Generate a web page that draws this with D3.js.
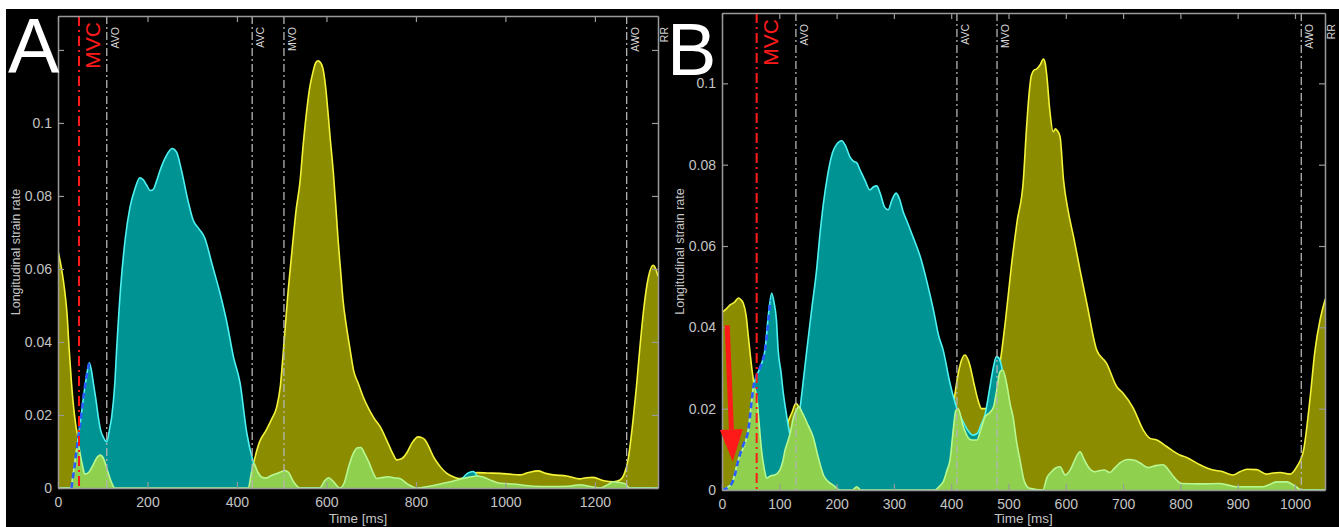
<!DOCTYPE html>
<html>
<head>
<meta charset="utf-8">
<script src="https://cdn.jsdelivr.net/npm/d3@7"></script>
<style>
  body { margin: 0; background: #fff; }
  svg { display: block; font-family: "Liberation Sans", Arial, sans-serif; }
</style>
</head>
<body>
<div id="chart"></div>
<script>
// ---- panel A data: [time ms, strain rate] ----
const aYellow = [[0,0.065],[8,0.060],[15,0.054],[20,0.048],[25,0.038],[30,0.029],[35,0.022],[40,0.017],[45,0.0137],[52,0.009],[60,0.005],[70,0.002],[80,0],[420,0],[430,0.003],[437,0.0068],[450,0.0125],[466,0.016],[478,0.019],[489,0.0223],[497,0.028],[504,0.038],[513,0.052],[523,0.065],[532,0.076],[541,0.084],[548,0.094],[556,0.1035],[563,0.110],[570,0.114],[576,0.1165],[581,0.117],[587,0.1165],[592,0.115],[598,0.110],[603,0.1035],[609,0.095],[615,0.087],[621,0.077],[626,0.068],[632,0.059],[637,0.0515],[645,0.044],[653,0.0378],[661,0.032],[671,0.0287],[682,0.025],[694,0.0218],[707,0.019],[720,0.0168],[735,0.013],[748,0.0095],[757,0.0077],[768,0.008],[779,0.0095],[792,0.0125],[805,0.014],[813,0.0138],[820,0.0132],[830,0.011],[839,0.0086],[852,0.0062],[869,0.004],[885,0.003],[898,0.0026],[910,0.003],[921,0.0036],[936,0.0042],[960,0.0041],[988,0.004],[1010,0.0038],[1032,0.0036],[1050,0.0042],[1073,0.0047],[1090,0.004],[1107,0.0036],[1137,0.0033],[1166,0.0025],[1180,0.0028],[1196,0.0029],[1220,0.002],[1241,0.0017],[1256,0.0022],[1266,0.004],[1274,0.0077],[1280,0.013],[1286,0.0195],[1293,0.028],[1300,0.0378],[1310,0.05],[1320,0.058],[1330,0.061],[1336,0.060],[1341,0.058]];
const aTeal = [[0,0],[30,0],[37,0.006],[45,0.0137],[50,0.018],[55,0.023],[63,0.030],[70,0.0343],[75,0.032],[79,0.0288],[85,0.024],[90,0.0195],[95,0.016],[101,0.014],[109,0.0127],[115,0.016],[120,0.0195],[127,0.0287],[131,0.0378],[140,0.055],[150,0.068],[161,0.077],[172,0.082],[183,0.085],[190,0.0845],[198,0.083],[206,0.0815],[213,0.0818],[220,0.084],[228,0.087],[242,0.091],[255,0.093],[265,0.092],[276,0.087],[290,0.079],[302,0.0734],[315,0.071],[328,0.0685],[345,0.061],[362,0.0534],[378,0.045],[392,0.036],[407,0.0287],[422,0.015],[437,0.0068],[450,0.002],[460,0],[885,0],[900,0.002],[915,0.004],[928,0.0045],[938,0.003],[950,0],[1341,0]];
const aGreen = [[0,0],[28,0],[34,0.004],[40,0.009],[45,0.012],[50,0.009],[55,0.006],[60,0.0038],[68,0.0042],[78,0.0062],[88,0.0085],[95,0.009],[102,0.008],[110,0.005],[118,0.002],[127,0],[425,0],[432,0.004],[437,0.0068],[446,0.0045],[455,0.003],[465,0.0027],[478,0.0035],[490,0.004],[500,0.0045],[507,0.0048],[515,0.0043],[525,0.002],[541,0],[585,0],[596,0.002],[605,0.0028],[615,0.0018],[630,0],[640,0.0015],[650,0.006],[660,0.0095],[670,0.011],[677,0.0111],[685,0.0095],[695,0.007],[705,0.004],[712,0.0026],[722,0.0028],[738,0.0031],[750,0.0028],[764,0.0026],[780,0.0012],[801,0],[830,0.0005],[861,0.0013],[880,0.0018],[898,0.0024],[920,0.003],[936,0.0033],[950,0.003],[970,0.002],[988,0.0013],[1017,0.0011],[1062,0.0005],[1100,0.0004],[1140,0.0005],[1166,0.0009],[1190,0.0004],[1211,0],[1230,0.001],[1241,0.0017],[1255,0.0015],[1267,0.0012],[1278,0],[1341,0]];
const aDashed = [[30,0],[37,0.006],[45,0.0137],[50,0.018],[55,0.023],[63,0.030],[70,0.0343]];
const aEvents = [["MVC",47],["AVO",109],["AVC",434],["MVO",505],["AWO",1271]];
const aXTicks = [0,200,400,600,800,1000,1200];
const aYTicks = [0,0.02,0.04,0.06,0.08,0.1,0.12];

// ---- panel B data ----
const bYellow = [[0,0.0437],[7,0.0445],[14,0.0455],[22,0.0462],[28.5,0.0472],[33,0.0468],[37,0.046],[42,0.043],[46,0.0377],[52,0.030],[56,0.0258],[62,0.02],[70,0.012],[80,0.008],[95,0.008],[108,0.012],[116,0.017],[122,0.019],[129,0.0213],[136,0.020],[140,0.019],[150,0.013],[165,0.006],[180,0.002],[200,0],[375,0],[390,0.006],[400,0.016],[408,0.025],[416,0.031],[424,0.0332],[432,0.031],[440,0.026],[447,0.022],[453,0.020],[462,0.02],[472,0.024],[485,0.031],[495,0.042],[505,0.055],[515,0.066],[526,0.0763],[531,0.088],[535,0.0959],[540,0.102],[545,0.1033],[549,0.1035],[555,0.1045],[561,0.106],[564,0.105],[567,0.1017],[572,0.0935],[578,0.0881],[582,0.0888],[585,0.0884],[590,0.0869],[596,0.0763],[605,0.068],[614,0.062],[625,0.054],[638,0.045],[654,0.0344],[671,0.0312],[689,0.0254],[700,0.0238],[718,0.0201],[735,0.0148],[747,0.0127],[759,0.0123],[776,0.0107],[799,0.0086],[811,0.008],[834,0.0062],[857,0.0049],[871,0.0046],[892,0.0037],[904,0.0045],[916,0.0051],[933,0.005],[950,0.0039],[962,0.0042],[974,0.0043],[991,0.0039],[1003,0.0057],[1015,0.0098],[1026,0.0221],[1035,0.0344],[1044,0.042],[1053,0.047]];
const bTeal = [[0,0],[17,0.0016],[28.5,0.0074],[46,0.0148],[55,0.0254],[66,0.030],[75,0.0344],[81,0.043],[86.7,0.0484],[91,0.046],[95,0.0418],[98,0.0344],[103,0.029],[107,0.0238],[112,0.019],[116,0.0155],[122,0.0123],[129,0.015],[136,0.020],[142,0.027],[148,0.0344],[157,0.045],[165,0.054],[171,0.063],[177,0.0705],[185,0.078],[193,0.083],[200,0.085],[209,0.0859],[216,0.0845],[223,0.082],[230,0.0808],[235,0.0805],[241,0.0787],[250,0.076],[258,0.0738],[264,0.0745],[270,0.0748],[276,0.073],[284,0.0695],[290,0.0689],[297,0.0715],[304,0.073],[310,0.0715],[316,0.0685],[322,0.0664],[334,0.062],[346,0.0574],[358,0.051],[369,0.0443],[378,0.038],[386,0.0344],[398,0.0262],[410,0.0201],[420,0.017],[430,0.0145],[438,0.0135],[446,0.014],[452,0.016],[459,0.0185],[466,0.024],[472,0.029],[479,0.0328],[483,0.0325],[487,0.031],[493,0.026],[500,0.017],[510,0.006],[520,0],[1053,0]];
const bGreen = [[0,0],[17,0.0016],[28.5,0.0074],[46,0.0148],[51,0.021],[55,0.0254],[60.5,0.023],[65,0.016],[69,0.0098],[74,0.005],[78,0.0029],[85,0.0035],[92,0.0037],[101,0.0049],[106,0.007],[110,0.0098],[115,0.012],[119,0.014],[125,0.018],[130,0.0197],[134,0.0205],[140,0.019],[150,0.016],[159,0.0131],[168,0.008],[177,0.0037],[186,0.002],[194,0.0012],[206,0],[228,0],[235,0.0008],[242,0],[372,0],[380,0.001],[386,0.002],[393,0.005],[398,0.0074],[403,0.014],[408,0.0195],[412,0.020],[421,0.0156],[430,0.0128],[436,0.0123],[445,0.0123],[452,0.015],[459,0.018],[467,0.019],[474,0.0205],[480,0.025],[485,0.029],[490,0.0295],[497,0.026],[503,0.021],[508,0.018],[514,0.012],[520,0.0074],[528,0.002],[537,0.0004],[560,0],[567,0.003],[575,0.0045],[583,0.0055],[590,0.0057],[599,0.0037],[608,0.005],[616,0.0075],[625,0.0094],[632,0.0075],[639,0.0057],[651,0.0045],[660,0.0048],[667,0.0049],[677,0.0043],[686,0.0055],[694,0.0066],[709,0.0075],[720,0.0073],[729,0.0067],[744,0.0055],[757,0.006],[770,0.0062],[779,0.005],[788,0.0033],[802,0.0016],[834,0.0015],[869,0.0016],[898,0.0008],[944,0.0008],[958,0.0015],[968,0.002],[985,0.002],[1002,0.0008],[1011,0],[1053,0]];
const bDashed = [[0,0],[8,0.0004],[17,0.0016],[23,0.004],[28.5,0.0074],[37,0.011],[46,0.0148],[51,0.021],[55,0.0254],[60,0.028],[66,0.030],[75,0.0344],[81,0.042],[84,0.0467]];
const bEvents = [["MVC",60.5],["AVO",129],["AVC",410],["MVO",480],["AWO",1011]];
const bArrow = [[9,0.0405],[18.7,0.007]];
const bXTicks = [0,100,200,300,400,500,600,700,800,900,1000];
const bYTicks = [0,0.02,0.04,0.06,0.08,0.1];

const W = 1339, H = 527;
const svg = d3.select("#chart").append("svg").attr("width", W).attr("height", H);
svg.append("rect").attr("x", 6).attr("y", 9).attr("width", W - 6).attr("height", H - 9).attr("fill", "#000");

const FILL_Y = "#8c8c00", LINE_Y = "#f4f43a";
const FILL_T = "#009393", LINE_T = "#4ef2f2";
const FILL_G = "#8fd14f", LINE_G = "#b8f890";

function drawPanel(p) {
    const x = d3.scaleLinear().domain(p.xDomain).range([p.left, p.right]);
    const y = d3.scaleLinear().domain(p.yDomain).range([p.bottom, p.top]);
    const g = svg.append("g");

    const clipId = "clip" + p.letter;
    svg.append("clipPath").attr("id", clipId).append("rect")
        .attr("x", p.left).attr("y", p.top)
        .attr("width", p.right - p.left).attr("height", p.bottom - p.top);

    const plot = g.append("g").attr("clip-path", `url(#${clipId})`);
    const area = d3.area().x(d => x(d[0])).y0(y(0)).y1(d => y(d[1])).curve(d3.curveMonotoneX);
    const line = d3.line().x(d => x(d[0])).y(d => y(d[1])).curve(d3.curveMonotoneX);

    [[p.yellow, FILL_Y, LINE_Y], [p.teal, FILL_T, LINE_T], [p.green, FILL_G, LINE_G]].forEach(([data, fill, stroke]) => {
        plot.append("path").datum(data).attr("d", area).attr("fill", fill);
        plot.append("path").datum(data).attr("d", line)
            .attr("fill", "none").attr("stroke", stroke).attr("stroke-width", 1.6);
    });

    // extrapolated onset (blue dashed)
    plot.append("path").datum(p.dashed).attr("d", line)
        .attr("fill", "none").attr("stroke", "#2a5cff").attr("stroke-width", 2.6)
        .attr("stroke-dasharray", "6,4");

    // event lines
    p.events.forEach(([name, t]) => {
        const isMvc = name === "MVC";
        g.append("line")
            .attr("x1", x(t)).attr("x2", x(t)).attr("y1", p.top).attr("y2", p.bottom)
            .attr("stroke", isMvc ? "#ff1a1a" : "#b4b4b4")
            .attr("stroke-width", isMvc ? 2 : 1.3)
            .attr("stroke-dasharray", isMvc ? "10,4,2,4" : "8,3,2,3");
        g.append("text")
            .attr("transform", `translate(${x(t) + (isMvc ? 21 : 12)},${p.top + (isMvc ? 6 : 11)}) rotate(-90)`)
            .attr("text-anchor", "end")
            .attr("font-size", isMvc ? 21 : 10.5)
            .attr("fill", isMvc ? "#ff1a1a" : "#d8d8d8")
            .text(name);
    });
    g.append("text")
        .attr("transform", `translate(${p.right + 10},${p.top + 11}) rotate(-90)`)
        .attr("text-anchor", "end").attr("font-size", 10.5).attr("fill", "#d8d8d8")
        .text("RR");

    // axes box with inward ticks
    const fmtY = d => (d > 0.1) ? "" : String(+d.toFixed(2));
    const axes = [
        [d3.axisBottom(x).tickValues(p.xTicks).tickFormat(d => String(d)).tickPadding(9), `translate(0,${p.bottom})`],
        [d3.axisTop(x).tickValues(p.xTicks).tickFormat(""), `translate(0,${p.top})`],
        [d3.axisLeft(y).tickValues(p.yTicks).tickFormat(fmtY).tickPadding(6), `translate(${p.left},0)`],
        [d3.axisRight(y).tickValues(p.yTicks).tickFormat(""), `translate(${p.right},0)`]
    ];
    axes.forEach(([ax, tr]) => {
        const a = g.append("g").attr("transform", tr)
            .call(ax.tickSizeInner(-6).tickSizeOuter(0));
        a.select(".domain").attr("stroke", "#9a9a9a").attr("stroke-width", 1.5);
        a.selectAll(".tick line").attr("stroke", "#9a9a9a").attr("stroke-width", 1.2);
        a.selectAll(".tick text").attr("fill", "#c4c4c4").attr("font-size", 14)
            .attr("font-family", "Liberation Sans, Arial, sans-serif");
    });

    g.append("text")
        .attr("x", (p.left + p.right) / 2).attr("y", 523)
        .attr("text-anchor", "middle").attr("font-size", 13.5).attr("fill", "#c4c4c4")
        .text("Time [ms]");
    g.append("text")
        .attr("transform", `translate(${p.left - 38},${(p.top + p.bottom) / 2}) rotate(-90)`)
        .attr("text-anchor", "middle").attr("font-size", 12.5).attr("fill", "#c4c4c4")
        .text("Longitudinal strain rate");

    // red arrow annotation
    if (p.arrow) {
        const [x0, y0] = [x(p.arrow[0][0]), y(p.arrow[0][1])];
        const [x1, y1] = [x(p.arrow[1][0]), y(p.arrow[1][1])];
        const len = Math.hypot(x1 - x0, y1 - y0), ux = (x1 - x0) / len, uy = (y1 - y0) / len;
        const hl = 32, hw = 11.5;
        const bx = x1 - ux * hl, by = y1 - uy * hl;
        g.append("line").attr("x1", x0).attr("y1", y0).attr("x2", bx).attr("y2", by)
            .attr("stroke", "#ff1a1a").attr("stroke-width", 5);
        g.append("path")
            .attr("d", `M${x1},${y1}L${bx - uy * hw},${by + ux * hw}L${bx + uy * hw},${by - ux * hw}Z`)
            .attr("fill", "#ff1a1a");
    }

    // panel letter
    g.append("text").attr("x", p.letterX).attr("y", p.letterY)
        .attr("font-size", p.letterSize).attr("fill", "#fff").text(p.letter);
}

drawPanel({
    letter: "A", letterX: 8, letterY: 73, letterSize: 77,
    left: 58, right: 658, top: 16, bottom: 488,
    xDomain: [0, 1341], yDomain: [0, 0.1293],
    xTicks: aXTicks, yTicks: aYTicks,
    yellow: aYellow, teal: aTeal, green: aGreen, dashed: aDashed, events: aEvents
});

drawPanel({
    letter: "B", letterX: 667, letterY: 75, letterSize: 74,
    left: 722, right: 1325, top: 13, bottom: 490,
    xDomain: [0, 1052.4], yDomain: [0, 0.1173],
    xTicks: bXTicks, yTicks: bYTicks,
    yellow: bYellow, teal: bTeal, green: bGreen, dashed: bDashed, events: bEvents, arrow: bArrow
});
</script>
</body>
</html>
